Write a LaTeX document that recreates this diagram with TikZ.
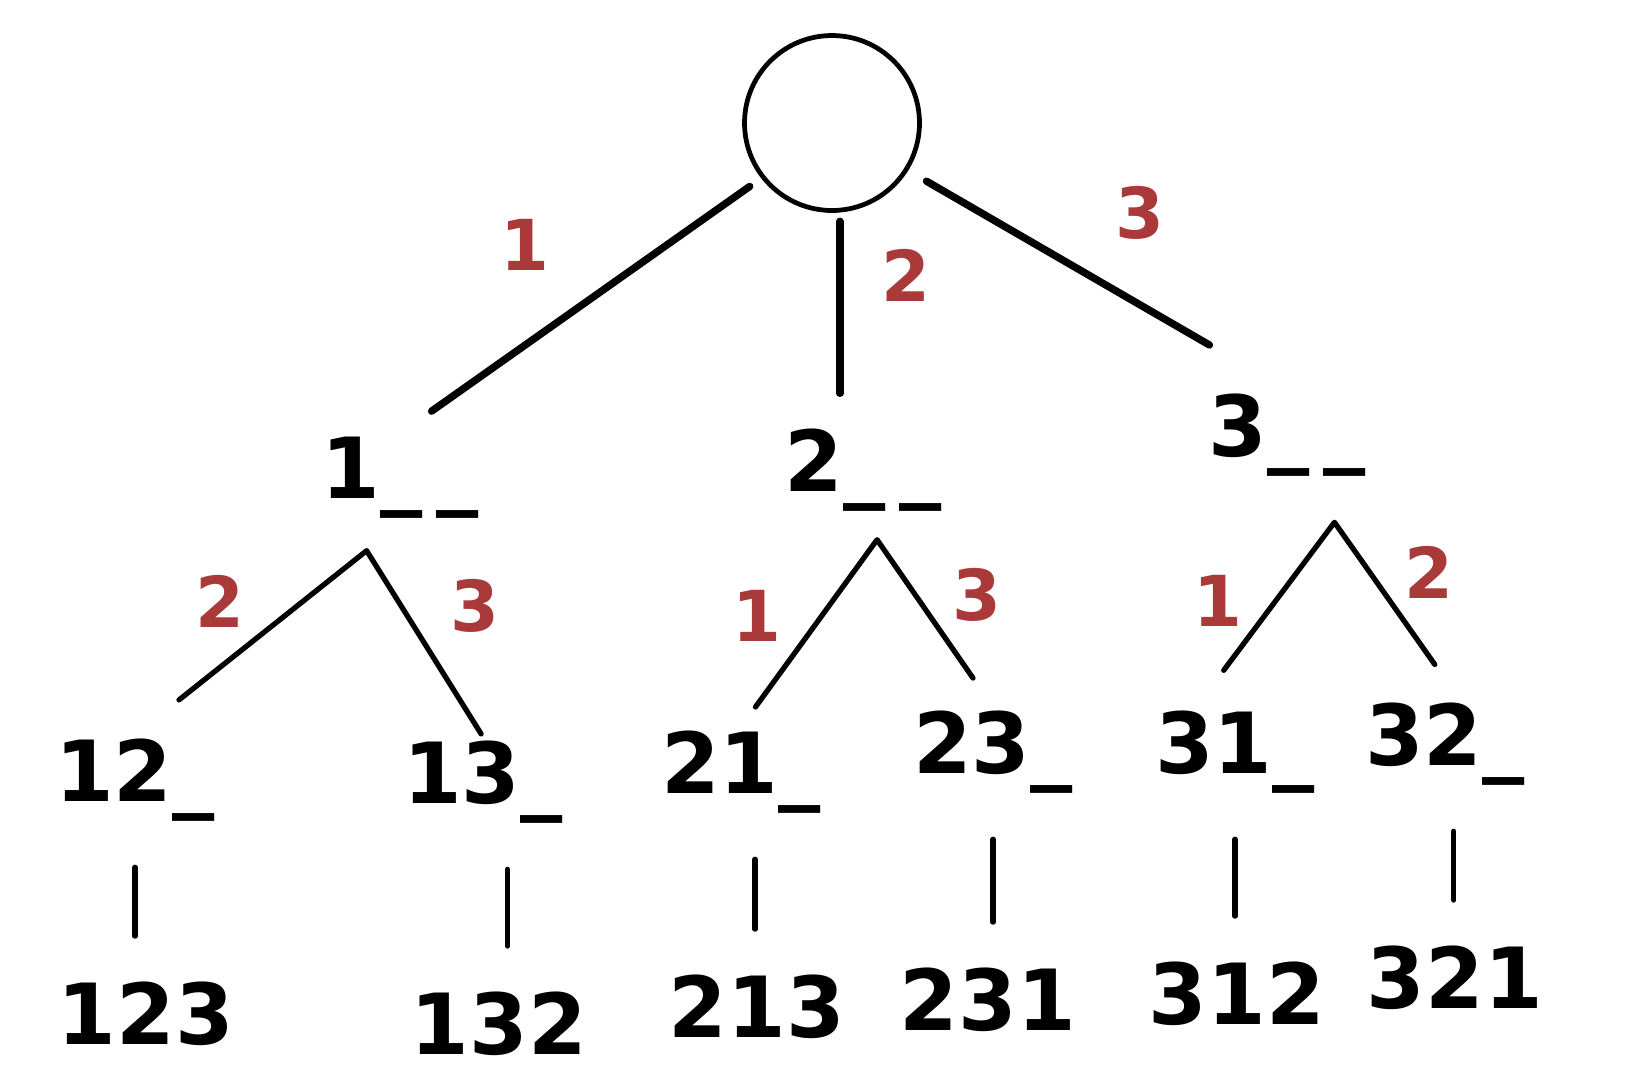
\documentclass[tikz,border=0pt]{standalone}
\usepackage{fontspec}
\setmainfont{DejaVu Sans}
\usetikzlibrary{positioning}
\definecolor{markred}{RGB}{170,58,58}

\begin{document}
\begin{tikzpicture}[
  x=0.02cm, y=-0.02cm,
  perm/.style={font=\fontsize{48}{52}\selectfont\bfseries, inner sep=2pt},
  leaf/.style={font=\fontsize{48}{52}\selectfont\bfseries, inner sep=2pt},
  lbl/.style={font=\fontsize{40}{44}\selectfont\bfseries, text=markred},
  branch/.style={draw=black, line width=4.2pt, line cap=round},
  twig/.style={draw=black, line width=3pt, line cap=round, line join=round}
]
\useasboundingbox (0,0) rectangle (1630,1080);

% Root
\node[draw, circle, line width=2.7pt, minimum size=3.5cm] (root) at (832,123) {};

% First choice
\node[perm] (p1) at (400,478) {1\_\,\_};
\node[perm] (p2) at (863,470) {2\_\,\_};
\node[perm] (p3) at (1287,435) {3\_\,\_};

% Second choice
\node[perm] (q12) at (135,780) {12\_};
\node[perm] (q13) at (483,782) {13\_};
\node[perm] (q21) at (741,772) {21\_};
\node[perm] (q23) at (993,752) {23\_};
\node[perm] (q31) at (1235,752) {31\_};
\node[perm] (q32) at (1445,744) {32\_};

% Full permutations
\node[leaf] (l123) at (146,1014) {123};
\node[leaf] (l132) at (499,1024) {132};
\node[leaf] (l213) at (757,1007) {213};
\node[leaf] (l231) at (988,1000) {231};
\node[leaf] (l312) at (1237,994) {312};
\node[leaf] (l321) at (1455,978) {321};

% Root branches
\draw[branch, shorten <=8pt, shorten >=22pt] (root.218) -- (p1.north);
\draw[branch, shorten <=5pt, shorten >=18pt] (root.-85) -- (root.-85 |- p2.north);
\draw[branch, shorten <=12pt, shorten >=51pt] (root.-32) -- (p3.north);
\node[lbl] (c1) at (525,245) {1};
\node[lbl] (c2) at (906,275) {2};
\node[lbl] (c3) at (1140,213) {3};

% Forks under 1__
\coordinate (f1) at ([xshift=-19pt, yshift=-16pt]p1.south);
\draw[twig, shorten <=32pt, shorten >=2pt] (q12.north) -- (f1) -- (q13.north);
\node[lbl] (c12) at (220,601) {2};
\node[lbl] (c13) at (475,606) {3};

% Forks under 2__
\coordinate (f2) at ([xshift=8pt, yshift=-14pt]p2.south);
\draw[twig, shorten <=14pt, shorten >=20pt] (q21.north) -- (f2) -- (q23.north);
\node[lbl] (c21) at (757,616) {1};
\node[lbl] (c23) at (977,595) {3};

% Forks under 3__
\coordinate (f3) at ([xshift=27pt, yshift=-24pt]p3.south);
\draw[twig, shorten <=26pt, shorten >=24pt] ([xshift=-22pt]q31.north) -- (f3) -- ([xshift=8pt]q32.north);
\node[lbl] (c31) at (1218,601) {1};
\node[lbl] (c32) at (1429,572) {2};

% Last step
\foreach \a/\b/\dx in {q12/l123/0, q13/l132/14, q21/l213/8, q23/l231/0, q31/l312/0, q32/l321/5}
  \draw[twig, shorten <=24pt, shorten >=24pt] ([xshift=\dx pt]\a.south) -- ([xshift=\dx pt]\a.south |- \b.north);

\end{tikzpicture}
\end{document}
